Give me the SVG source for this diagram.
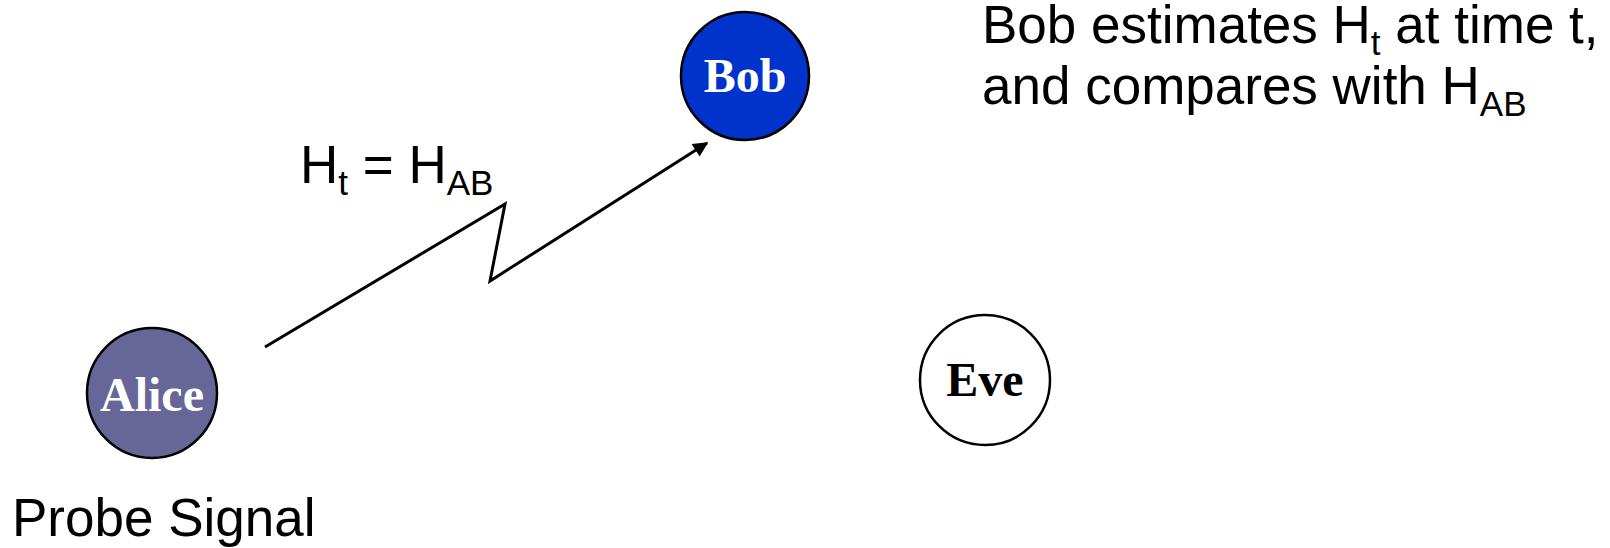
<svg xmlns="http://www.w3.org/2000/svg" width="1610" height="548" viewBox="0 0 1610 548">
<defs>
<style>
.node{stroke:#000;stroke-width:2.5}
.lbl{font-family:"Liberation Serif",serif;font-weight:bold;font-size:48px;text-anchor:middle}
.txt{font-family:"Liberation Sans",Arial,sans-serif;font-size:53px;fill:#000}
.sub{font-size:35px}
.conn{fill:none;stroke:#000;stroke-width:3;stroke-linejoin:miter}
</style>
<marker id="arr" viewBox="0 0 10 10" refX="9" refY="5" markerWidth="6" markerHeight="5" orient="auto" markerUnits="strokeWidth">
<path d="M0,0 L10,5 L0,10 Z" fill="#000"/>
</marker>
</defs>
<rect width="1610" height="548" fill="#fff"/>
<g id="connectors">
<polyline class="conn" points="265,347 505,204 490,281 707,143" marker-end="url(#arr)"/>
</g>
<g id="bob">
<circle class="node" cx="745" cy="76" r="64" fill="#0033CC"/>
<text class="lbl" x="745" y="92" fill="#fff">Bob</text>
</g>
<g id="alice">
<circle class="node" cx="152" cy="393" r="65" fill="#666699"/>
<text class="lbl" x="152" y="411" fill="#fff">Alice</text>
</g>
<g id="eve">
<circle class="node" cx="985" cy="380" r="65" fill="#fff"/>
<text class="lbl" x="985" y="396" fill="#000">Eve</text>
</g>
<g id="labels">
<text class="txt" x="300" y="183">H<tspan class="sub" dy="12">t</tspan><tspan dy="-12"> = H</tspan><tspan class="sub" dy="12">AB</tspan></text>
<text class="txt" x="982" y="43">Bob estimates H<tspan class="sub" dy="12">t</tspan><tspan dy="-12"> at time t,</tspan></text>
<text class="txt" x="982" y="104">and compares with H<tspan class="sub" dy="12">AB</tspan></text>
<text class="txt" x="12" y="536">Probe Signal</text>
</g>
</svg>
